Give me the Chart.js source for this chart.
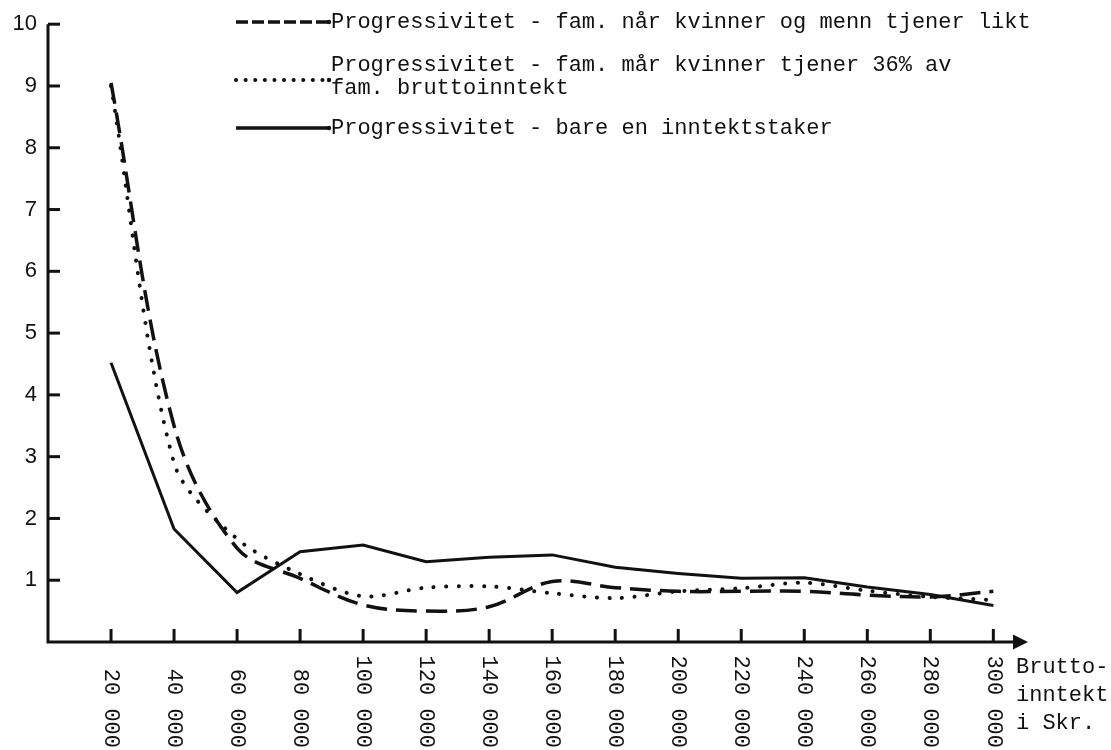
<!DOCTYPE html>
<html>
<head>
<meta charset="utf-8">
<script src="https://cdn.jsdelivr.net/npm/chart.js@4.4.1/dist/chart.umd.min.js"></script>
<style>
    html, body { margin: 0; padding: 0; background: #ffffff; }
    #wrap { width: 1111px; height: 750px; position: relative; }
</style>
</head>
<body>
<div id="wrap"><canvas id="progChart"></canvas></div>
<script>
// ========== DATA ==========
const incomes = [20000, 40000, 60000, 80000, 100000, 120000, 140000, 160000,
                 180000, 200000, 220000, 240000, 260000, 280000, 300000];
const incomeLabels = ['20 000', '40 000', '60 000', '80 000', '100 000', '120 000', '140 000', '160 000',
                      '180 000', '200 000', '220 000', '240 000', '260 000', '280 000', '300 000'];
const yTickValues = [1, 2, 3, 4, 5, 6, 7, 8, 9, 10];

// kvinner og menn tjener likt (stiplet)
const equalEarners = [9.05, 3.5, 1.52, 1.03, 0.6, 0.5, 0.57, 0.98, 0.88, 0.82, 0.82, 0.82, 0.76, 0.73, 0.82];
// kvinner tjener 36% (prikket)
const share36 = [9.0, 2.9, 1.67, 1.1, 0.74, 0.88, 0.9, 0.79, 0.71, 0.82, 0.87, 0.96, 0.83, 0.73, 0.68];
// bare en inntektstaker (heltrukket)
const singleEarner = [4.52, 1.83, 0.8, 1.46, 1.57, 1.3, 1.37, 1.41, 1.21, 1.11, 1.03, 1.04, 0.89, 0.77, 0.59];

const seriesNames = [
    'Progressivitet - fam. når kvinner og menn tjener likt',
    'Progressivitet - fam. mår kvinner tjener 36% av\nfam. bruttoinntekt',
    'Progressivitet - bare en inntektstaker'
];
const xAxisTitle = ['Brutto-', 'inntekt', 'i Skr.'];

const INK = '#111111';
const MONO = '"Liberation Mono", "DejaVu Sans Mono", monospace';

function toPoints(values) {
    return incomes.map((x, i) => ({ x: x, y: values[i] }));
}

// ========== AKSER, LEGENDE OG TEKST (typewriter-stil) ==========
const paperPlugin = {
    id: 'paper',
    afterDraw(chart) {
        const ctx = chart.ctx;
        const area = chart.chartArea;
        const xs = chart.scales.x;
        const ys = chart.scales.y;
        ctx.save();
        ctx.strokeStyle = INK;
        ctx.fillStyle = INK;
        ctx.lineCap = 'butt';

        // akselinjer
        ctx.lineWidth = 3;
        ctx.beginPath();
        ctx.moveTo(area.left, ys.getPixelForValue(10));
        ctx.lineTo(area.left, area.bottom);
        ctx.lineTo(area.right - 10, area.bottom);
        ctx.stroke();

        // pil
        ctx.beginPath();
        ctx.moveTo(area.right, area.bottom);
        ctx.lineTo(area.right - 15, area.bottom - 7.5);
        ctx.lineTo(area.right - 15, area.bottom + 7.5);
        ctx.closePath();
        ctx.fill();

        // tick-merker innover
        ctx.lineWidth = 3;
        yTickValues.forEach(v => {
            const py = ys.getPixelForValue(v);
            ctx.beginPath();
            ctx.moveTo(area.left, py);
            ctx.lineTo(area.left + 12, py);
            ctx.stroke();
        });
        incomes.forEach(v => {
            const px = xs.getPixelForValue(v);
            ctx.beginPath();
            ctx.moveTo(px, area.bottom);
            ctx.lineTo(px, area.bottom - 13);
            ctx.stroke();
        });

        // x-etiketter, rotert med klokka
        ctx.font = '22px ' + MONO;
        ctx.textAlign = 'right';
        ctx.textBaseline = 'middle';
        incomes.forEach((v, i) => {
            const px = xs.getPixelForValue(v);
            ctx.save();
            ctx.translate(px, 748);
            ctx.rotate(Math.PI / 2);
            ctx.fillText(incomeLabels[i], 0, 0);
            ctx.restore();
        });

        // aksetittel
        ctx.textAlign = 'left';
        xAxisTitle.forEach((t, i) => {
            ctx.fillText(t, 1016, 667 + i * 28);
        });

        // legende
        const legendRows = [
            { lineY: 22, textY: [22], dash: [12, 4], cap: 'butt', width: 3.5 },
            { lineY: 80, textY: [65, 88], dash: [0.1, 9.5], cap: 'round', width: 4 },
            { lineY: 128, textY: [128], dash: [], cap: 'butt', width: 3.5 }
        ];
        legendRows.forEach((row, i) => {
            ctx.save();
            ctx.lineWidth = row.width;
            ctx.lineCap = row.cap;
            ctx.setLineDash(row.dash);
            ctx.beginPath();
            ctx.moveTo(236, row.lineY);
            ctx.lineTo(329, row.lineY);
            ctx.stroke();
            ctx.restore();
            ctx.beginPath();
            ctx.arc(329, row.lineY, 2.2, 0, Math.PI * 2);
            ctx.fill();
            seriesNames[i].split('\n').forEach((line, j) => {
                ctx.fillText(line, 331, row.textY[j]);
            });
        });

        ctx.restore();
    }
};

document.addEventListener('DOMContentLoaded', function () {
    if (typeof Chart === 'undefined') {
        console.error('Chart.js ble ikke lastet');
        return;
    }
    const ctx = document.getElementById('progChart');

    new Chart(ctx, {
        type: 'line',
        data: {
            datasets: [{
                label: seriesNames[0],
                data: toPoints(equalEarners),
                borderColor: INK,
                borderWidth: 3.5,
                borderDash: [21, 9],
                tension: 0.35,
                pointRadius: 0,
                fill: false
            }, {
                label: seriesNames[1],
                data: toPoints(share36),
                borderColor: INK,
                borderWidth: 4,
                borderDash: [0.1, 12.5],
                borderCapStyle: 'round',
                tension: 0.3,
                pointRadius: 0,
                fill: false
            }, {
                label: seriesNames[2],
                data: toPoints(singleEarner),
                borderColor: INK,
                borderWidth: 3,
                tension: 0,
                pointRadius: 0,
                fill: false
            }]
        },
        options: {
            responsive: true,
            maintainAspectRatio: false,
            animation: false,
            layout: {
                padding: { top: 20, right: 83, bottom: 0, left: 0 }
            },
            plugins: {
                legend: { display: false },
                tooltip: { enabled: false }
            },
            scales: {
                x: {
                    type: 'linear',
                    min: 0,
                    max: 311000,
                    grid: { display: false },
                    border: { display: false },
                    ticks: { display: false },
                    afterFit: function (scale) { scale.height = 108; }
                },
                y: {
                    min: 0,
                    max: 10,
                    grid: { display: false, drawTicks: false },
                    border: { display: false },
                    afterBuildTicks: function (scale) {
                        scale.ticks = yTickValues.map(v => ({ value: v }));
                    },
                    ticks: {
                        color: INK,
                        padding: 11,
                        font: { family: '"Liberation Sans", Arial, sans-serif', size: 22 }
                    },
                    afterFit: function (scale) { scale.width = 48; }
                }
            }
        },
        plugins: [paperPlugin]
    });
});
</script>
</body>
</html>
